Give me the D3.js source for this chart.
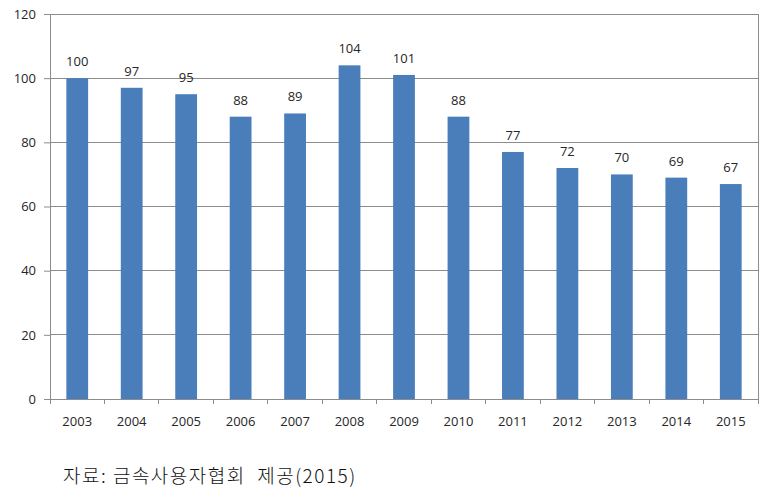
<!DOCTYPE html>
<html>
<head>
<meta charset="utf-8">
<script src="https://cdn.jsdelivr.net/npm/d3@7"></script>
<style>
  body { margin: 0; background: #fff; }
  svg { display: block; }
</style>
</head>
<body>
<div id="chart"></div>
<script>
const years = ['2003', '2004', '2005', '2006', '2007', '2008', '2009', '2010', '2011', '2012', '2013', '2014', '2015'];
const values = [100, 97, 95, 88, 89, 104, 101, 88, 77, 72, 70, 69, 67];
const yTicks = [0, 20, 40, 60, 80, 100, 120];
const caption = '자료: 금속사용자협회  제공(2015)';

const W = 775, H = 499;
const margin = { top: 14, right: 17, bottom: 100, left: 50 };
const width = W - margin.left - margin.right;
const height = H - margin.top - margin.bottom;
const gridColor = '#8c8c8c';
const textColor = '#262626';
const labelFont = '"Open Sans", "Noto Sans", sans-serif';

const root = d3.select('#chart').append('svg').attr('width', W).attr('height', H);
const svg = root.append('g').attr('transform', `translate(${margin.left},${margin.top})`);

const x = d3.scaleBand().domain(years).range([0, width]).paddingInner(0.6).paddingOuter(0.3);
const y = d3.scaleLinear().domain([0, 120]).range([height, 0]);

// gridlines
svg.selectAll('.grid').data(yTicks.filter(d => d > 0)).enter().append('line')
    .attr('x1', 0).attr('x2', width)
    .attr('y1', d => y(d)).attr('y2', d => y(d))
    .attr('stroke', gridColor).attr('stroke-width', 1).attr('shape-rendering', 'crispEdges');

// right border
svg.append('line').attr('x1', width).attr('x2', width).attr('y1', 0).attr('y2', height)
    .attr('stroke', gridColor).attr('shape-rendering', 'crispEdges');

// bars
svg.selectAll('.bar').data(values).enter().append('rect')
    .attr('x', (d, i) => x(years[i]))
    .attr('y', d => y(d))
    .attr('width', x.bandwidth())
    .attr('height', d => height - y(d))
    .attr('fill', '#4a7ebb');

// value labels
svg.selectAll('.val').data(values).enter().append('text')
    .attr('x', (d, i) => x(years[i]) + x.bandwidth() / 2)
    .attr('y', d => y(d) - 12)
    .attr('text-anchor', 'middle')
    .attr('font-family', labelFont).attr('font-size', '13px').attr('fill', textColor)
    .text(d => d);

// y axis
const yAxis = svg.append('g').call(d3.axisLeft(y).tickValues(yTicks).tickSize(6).tickPadding(8));
yAxis.select('.domain').attr('stroke', gridColor);
yAxis.selectAll('line').attr('stroke', gridColor);
yAxis.selectAll('text').attr('font-family', labelFont).attr('font-size', '13px').attr('fill', textColor);

// x axis, tick marks sit on the category boundaries
const xAxis = svg.append('g').attr('transform', `translate(0,${height})`);
xAxis.append('line').attr('x1', 0).attr('x2', width).attr('stroke', gridColor).attr('shape-rendering', 'crispEdges');
const bounds = d3.range(years.length + 1).map(i => i * (width / years.length));
xAxis.selectAll('.tk').data(bounds).enter().append('line')
    .attr('x1', d => d).attr('x2', d => d).attr('y1', 0).attr('y2', 5)
    .attr('stroke', gridColor).attr('shape-rendering', 'crispEdges');
xAxis.selectAll('.xl').data(years).enter().append('text')
    .attr('x', d => x(d) + x.bandwidth() / 2)
    .attr('y', 27)
    .attr('text-anchor', 'middle')
    .attr('font-family', labelFont).attr('font-size', '13px').attr('fill', textColor)
    .text(d => d);

// source caption
root.append('text')
    .attr('x', 63).attr('y', 483)
    .style('white-space', 'pre')
    .attr('font-family', '"Noto Sans CJK KR", sans-serif').attr('font-size', '19px')
    .attr('font-weight', 300).attr('letter-spacing', '1.5px').attr('fill', '#111')
    .text(caption);
</script>
</body>
</html>
